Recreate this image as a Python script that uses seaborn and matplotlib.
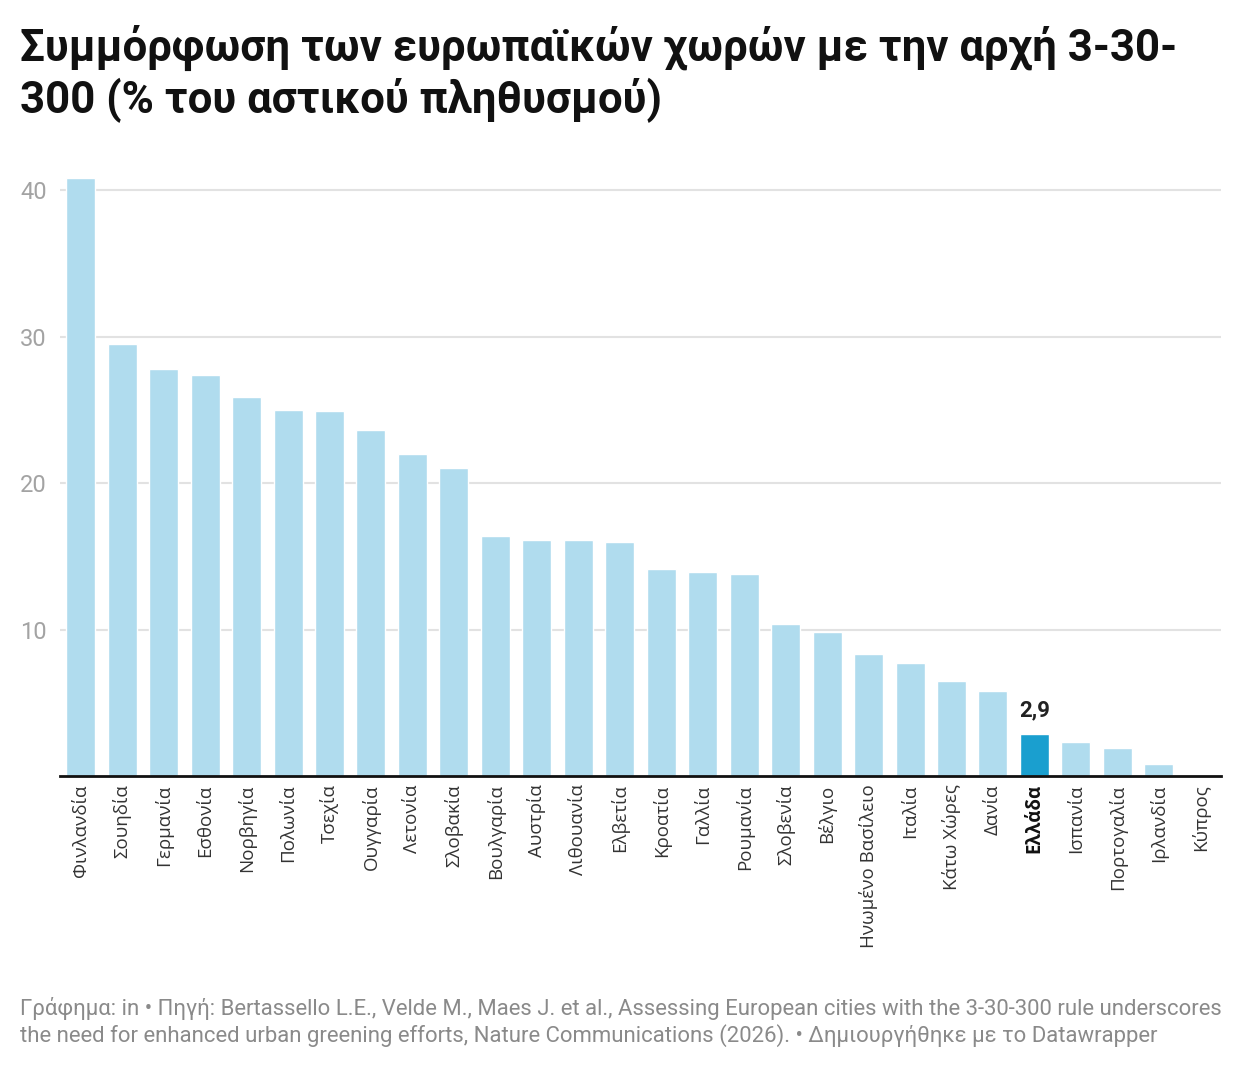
import matplotlib
matplotlib.use("Agg")
import matplotlib.pyplot as plt
import seaborn as sns
import pandas as pd

countries = ['Φινλανδία', 'Σουηδία', 'Γερμανία', 'Εσθονία', 'Νορβηγία', 'Πολωνία',
             'Τσεχία', 'Ουγγαρία', 'Λετονία', 'Σλοβακία', 'Βουλγαρία', 'Αυστρία',
             'Λιθουανία', 'Ελβετία', 'Κροατία', 'Γαλλία', 'Ρουμανία', 'Σλοβενία',
             'Βέλγιο', 'Ηνωμένο Βασίλειο', 'Ιταλία', 'Κάτω Χώρες', 'Δανία', 'Ελλάδα',
             'Ισπανία', 'Πορτογαλία', 'Ιρλανδία', 'Κύπρος']
values = [40.8, 29.5, 27.8, 27.4, 25.9, 25.0, 24.9, 23.6, 22.0, 21.0, 16.4, 16.1,
          16.1, 16.0, 14.1, 13.9, 13.8, 10.4, 9.8, 8.3, 7.7, 6.5, 5.8, 2.9,
          2.3, 1.9, 0.8, 0.0]
highlight = 'Ελλάδα'
yticks = [10, 20, 30, 40]

title = 'Συμμόρφωση των ευρωπαϊκών χωρών με την αρχή 3-30-\n300 (% του αστικού πληθυσμού)'
footer = ('Γράφημα: in • Πηγή: Bertassello L.E., Velde M., Maes J. et al., Assessing European cities with the 3-30-300 rule underscores\n'
          'the need for enhanced urban greening efforts, Nature Communications (2026). • Δημιουργήθηκε με το Datawrapper')

LIGHT = '#b0dcee'
DARK = '#1a9fcf'

sns.set_style('white')
plt.rcParams['font.family'] = ['Roboto', 'DejaVu Sans']

df = pd.DataFrame({'country': countries, 'value': values})
palette = {c: (DARK if c == highlight else LIGHT) for c in countries}

fig = plt.figure(figsize=(12.4, 10.7), dpi=100)
ax = fig.add_axes([60 / 1240, 1 - 776 / 1070, 1161 / 1240, (776 - 175.4) / 1070])

sns.barplot(data=df, x='country', y='value', hue='country', palette=palette,
            width=0.7, legend=False, saturation=1, ax=ax, zorder=2)

ax.set_ylim(0, 41)
ax.set_xlim(-0.5, len(countries) - 0.5)
ax.set_yticks(yticks)
ax.yaxis.grid(True, color='#e2e2e2', linewidth=1.5, zorder=0)
ax.set_axisbelow(True)
for s in ['top', 'right', 'left']:
    ax.spines[s].set_visible(False)
ax.spines['bottom'].set_color('#111111')
ax.spines['bottom'].set_linewidth(2)
ax.spines['bottom'].set_zorder(5)
ax.tick_params(axis='y', length=0, pad=9.5, labelsize=17, labelcolor='#a3a3a3')
ax.tick_params(axis='x', length=0, pad=6, labelsize=13.5, labelcolor='#333333')
ax.set_xlabel('')
ax.set_ylabel('')
ax.set_xticks(range(len(countries)))
ax.set_xticklabels(countries, rotation=90, va='top', ha='center',
                   family=['Open Sans', 'DejaVu Sans'])
for lbl in ax.get_xticklabels():
    if lbl.get_text() == highlight:
        lbl.set_fontweight('bold')
        lbl.set_color('#111111')

i = countries.index(highlight)
ax.annotate(f'{values[i]:.1f}'.replace('.', ','), (i, values[i]), xytext=(0, 9),
            textcoords='offset points', ha='center', va='bottom',
            fontsize=16, fontweight='bold', color='#222222')

fig.text(20 / 1240, 1 - 25 / 1070, title, ha='left', va='top', fontsize=31.5,
         fontweight='bold', color='#111111', linespacing=1.2)
fig.text(20 / 1240, 1 - 997 / 1070, footer, ha='left', va='top', fontsize=15.9,
         color='#8a8a8a', linespacing=1.2)

fig.savefig('out.png', dpi=100, facecolor='white')
